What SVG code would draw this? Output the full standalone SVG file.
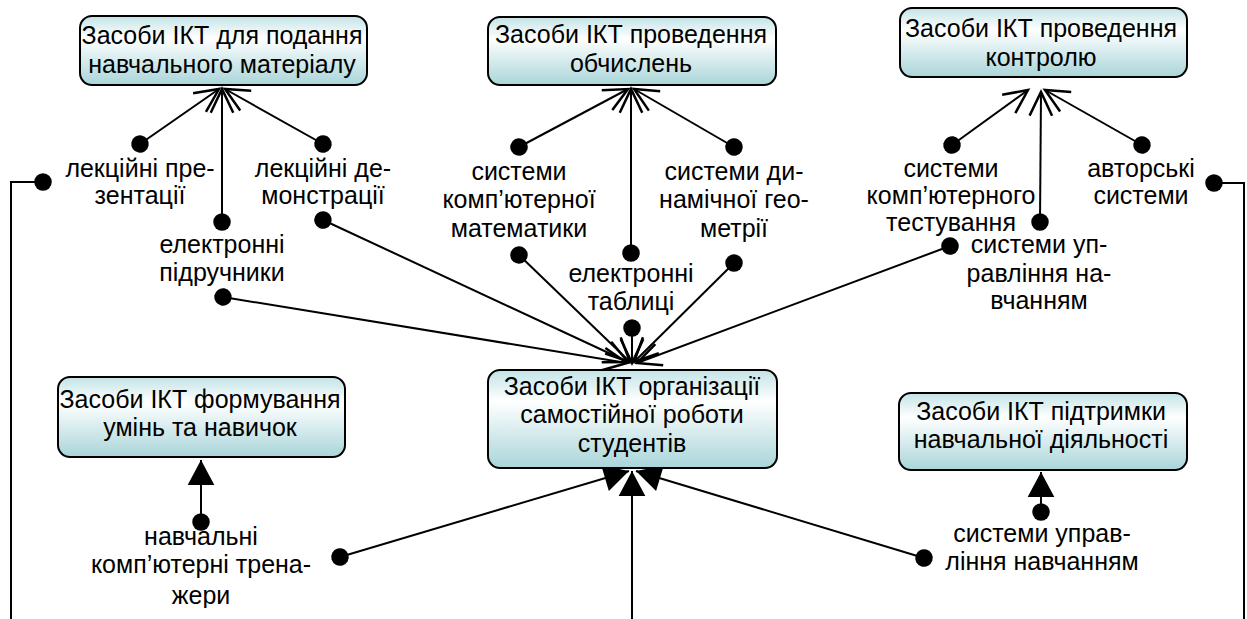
<svg xmlns="http://www.w3.org/2000/svg" width="1247" height="619" viewBox="0 0 1247 619">
<defs>
<linearGradient id="g" x1="0" y1="0" x2="0" y2="1">
<stop offset="0" stop-color="#c3e3e6"/>
<stop offset="0.32" stop-color="#ffffff"/>
<stop offset="1" stop-color="#a9d5d9"/>
</linearGradient>
<marker id="open" markerUnits="userSpaceOnUse" markerWidth="30" markerHeight="30" viewBox="-22 -12 24 24" refX="0" refY="0" orient="auto" overflow="visible">
<path d="M-19,-9 L0,0 L-19,9" fill="none" stroke="#000" stroke-width="2"/>
</marker>
<marker id="fill" markerUnits="userSpaceOnUse" markerWidth="30" markerHeight="30" viewBox="-16 -9 18 18" refX="0" refY="0" orient="auto" overflow="visible">
<path d="M-15,-8 L0,0 L-15,8 Z" fill="#000"/>
</marker>
<marker id="dot" markerUnits="userSpaceOnUse" markerWidth="20" markerHeight="20" viewBox="-8 -8 16 16" refX="0" refY="0" orient="auto" overflow="visible">
<circle cx="0" cy="0" r="7" fill="#000"/>
</marker>
<clipPath id="clipBottom"><rect x="0" y="0" width="1247" height="608"/></clipPath>
</defs>
<style>
.box{fill:url(#g);stroke:#000;stroke-width:2}
text{font-family:"Liberation Sans",Arial,sans-serif;font-size:25px;fill:#000;text-anchor:middle}
.c{fill:none;stroke:#000;stroke-width:2}
.o{marker-start:url(#dot);marker-end:url(#open)}
.f{marker-start:url(#dot);marker-end:url(#fill)}
</style>

<g id="connectors">
<path class="c o" d="M140,144 L219,89"/>
<path class="c o" d="M222,222 L222,89"/>
<path class="c o" d="M323,144 L225,89"/>
<path class="c o" d="M519,147 L628,89"/>
<path class="c o" d="M631,253 L631,89"/>
<path class="c o" d="M734,147 L634,89"/>
<path class="c o" d="M952,145 L1028,90"/>
<path class="c o" d="M1040,222 L1041,92"/>
<path class="c o" d="M1142,145 L1045,90"/>
<path class="c o" d="M223,297 L627,363"/>
<path class="c o" d="M323,220 L628,362"/>
<path class="c o" d="M519,255 L630,362"/>
<path class="c o" d="M632,328 L632,363"/>
<path class="c o" d="M734,263 L634,362"/>
<path class="c o" d="M950,246 L637,363"/>
<path class="c f" d="M340,557 L629,471"/>
<path class="c" style="marker-end:url(#fill)" d="M632,619 L632,471"/>
<path class="c f" d="M924,558 L636,471"/>
<path class="c f" d="M201,522 L201,460"/>
<path class="c f" d="M1041,512 L1041,472"/>
<path class="c" style="marker-start:url(#dot)" d="M43,182 L11,182 L11,619"/>
<path class="c" style="marker-start:url(#dot)" d="M1214,183 L1244,183 L1244,619"/>
</g>

<g id="node-podannya">
<rect class="box" x="80" y="16" width="287" height="69" rx="12"/>
<text x="222" y="44">Засоби ІКТ для подання</text>
<text x="222" y="73">навчального матеріалу</text>
</g>
<g id="node-obchyslen">
<rect class="box" x="488" y="17" width="288" height="68" rx="12"/>
<text x="631" y="43">Засоби ІКТ проведення</text>
<text x="631" y="72">обчислень</text>
</g>
<g id="node-kontrolyu">
<rect class="box" x="900" y="8" width="287" height="69" rx="12"/>
<text x="1041" y="37">Засоби ІКТ проведення</text>
<text x="1041" y="66">контролю</text>
</g>
<g id="node-formuvannya">
<rect class="box" x="58" y="377" width="287" height="80" rx="12"/>
<text x="200" y="408">Засоби ІКТ формування</text>
<text x="200" y="436">умінь та навичок</text>
</g>
<g id="node-organizatsii">
<rect class="box" x="488" y="370" width="289" height="98" rx="12"/>
<text x="632" y="395">Засоби ІКТ організації</text>
<text x="632" y="423">самостійної роботи</text>
<text x="632" y="452">студентів</text>
</g>
<g id="node-pidtrymky">
<rect class="box" x="899" y="393" width="288" height="77" rx="12"/>
<text x="1041" y="420">Засоби ІКТ підтримки</text>
<text x="1041" y="448">навчальної діяльності</text>
</g>

<g id="label-prezentatsii">
<text x="140" y="177">лекційні пре-</text>
<text x="140" y="204">зентації</text>
</g>
<g id="label-demonstratsii">
<text x="323" y="177">лекційні де-</text>
<text x="323" y="204">монстрації</text>
</g>
<g id="label-pidruchnyky">
<text x="222" y="253">електронні</text>
<text x="222" y="281">підручники</text>
</g>
<g id="label-matematyky">
<text x="519" y="180">системи</text>
<text x="519" y="208">комп’ютерної</text>
<text x="519" y="237">математики</text>
</g>
<g id="label-geometrii">
<text x="734" y="180">системи ди-</text>
<text x="734" y="208">намічної гео-</text>
<text x="734" y="237">метрії</text>
</g>
<g id="label-tablytsi">
<text x="631" y="282">електронні</text>
<text x="631" y="310">таблиці</text>
</g>
<g id="label-testuvannya">
<text x="951" y="177">системи</text>
<text x="951" y="204">комп’ютерного</text>
<text x="951" y="231">тестування</text>
</g>
<g id="label-avtorski">
<text x="1141" y="177">авторські</text>
<text x="1141" y="204">системи</text>
</g>
<g id="label-upravlinnya1">
<text x="1039" y="253">системи уп-</text>
<text x="1039" y="282">равління на-</text>
<text x="1039" y="309">вчанням</text>
</g>
<g id="label-trenazhery" clip-path="url(#clipBottom)">
<text x="201" y="545">навчальні</text>
<text x="201" y="573">комп’ютерні трена-</text>
<text x="201" y="604">жери</text>
</g>
<g id="label-upravlinnya2">
<text x="1042" y="542">системи управ-</text>
<text x="1042" y="570">ління навчанням</text>
</g>
</svg>
